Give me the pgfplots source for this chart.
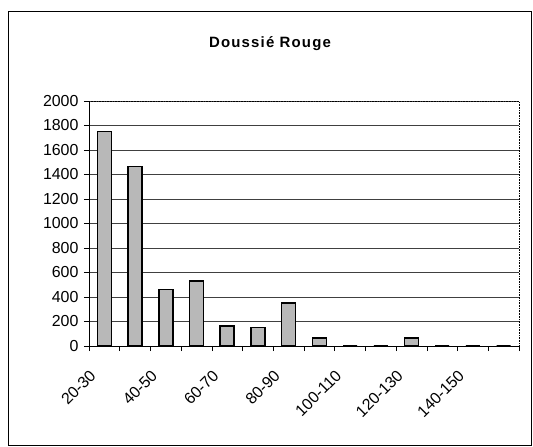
\documentclass[border=0pt]{standalone}
\usepackage{pgfplots}
\pgfplotsset{compat=1.18}
\usepackage{fontspec}
\setmainfont{Liberation Sans}
\begin{document}
\begin{tikzpicture}
\begin{axis}[
  name=ax,
  at={(0,0)}, anchor=south west,
  scale only axis,
  width=430bp, height=245bp,
  xmin=-0.5, xmax=13.5,
  ymin=0, ymax=2000,
  ytick={0,200,...,2000},
  xtick={-0.5,0.5,...,13.5},
  xticklabels={},
  extra x ticks={0,2,4,6,8,10,12},
  extra x tick labels={20-30,40-50,60-70,80-90,100-110,120-130,140-150},
  extra x tick style={major tick length=0pt, grid=none},
  x tick label style={rotate=45, anchor=north east, inner sep=0pt, xshift=-27bp, yshift=-5bp},
  tick align=outside,
  major tick length=5bp,
  xtick pos=bottom, ytick pos=left,
  axis x line*=bottom, axis y line*=left,
  axis line style={-, black, line width=0.8bp},
  tick style={black, line width=0.7bp},
  ymajorgrids,
  grid style={black!75, line width=0.6bp},
  /pgf/number format/assume math mode=true,
  /pgf/number format/set thousands separator={},
  ticklabel style={font=\fontsize{16}{18}\selectfont},
  y tick label style={xshift=-2bp},
  ybar, bar width=14bp,
  clip=false,
]
\addplot[draw=black, line width=1.6bp, fill=black!28] coordinates {
  (0,1750) (1,1465) (2,460) (3,530) (4,165) (5,150) (6,350)
  (7,65) (8,0) (9,0) (10,63) (11,0) (12,0) (13,0)
};
\draw[densely dotted, line width=0.6bp] (rel axis cs:0,1) -- (rel axis cs:1,1) -- (rel axis cs:1,0);
\end{axis}
\node[font=\bfseries\fontsize{15}{17}\selectfont] at ([xshift=181bp,yshift=57bp]ax.north west) {\addfontfeatures{LetterSpace=8}Doussié Rouge};
\draw[line width=1bp] ([xshift=-80bp,yshift=-99bp]ax.south west) rectangle ([xshift=12bp,yshift=89bp]ax.north east);
\pgfresetboundingbox
\path[use as bounding box] ([xshift=-89bp,yshift=-101bp]ax.south west) rectangle ([xshift=14bp,yshift=101bp]ax.north east);
\end{tikzpicture}
\end{document}
